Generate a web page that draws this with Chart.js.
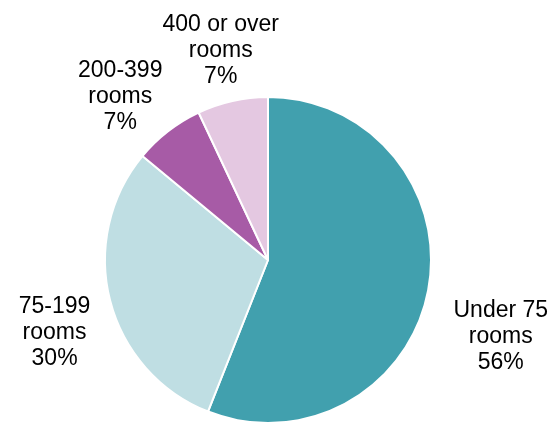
<!DOCTYPE html>
<html>
<head>
<meta charset="utf-8">
<script src="https://cdn.jsdelivr.net/npm/chart.js@4.4.0/dist/chart.umd.min.js"></script>
<style>
  html, body { margin: 0; padding: 0; background: #fff; }
  #wrap { width: 555px; height: 424px; }
</style>
</head>
<body>
<div id="wrap"><canvas id="roomsChart" width="555" height="424"></canvas></div>
<script>
// Hotel size bands, share of hotels
const categories = ['Under 75 rooms', '75-199 rooms', '200-399 rooms', '400 or over rooms'];
const shares = [56, 30, 7, 7];
const labelLines = [
    ['Under 75', 'rooms'],
    ['75-199', 'rooms'],
    ['200-399', 'rooms'],
    ['400 or over', 'rooms']
];
const sliceColors = ['#41A0AE', '#BFDEE3', '#A75BA6', '#E4C8E1'];

// where each label sits relative to its slice: radius multiple and angle nudge (deg)
const labelRadius = [1.5, 1.38, 1.36, 1.33];
const labelNudge = [7, -4, -4, 0];

const outsideLabels = {
    id: 'outsideLabels',
    afterDatasetsDraw(chart) {
        const ctx = chart.ctx;
        const meta = chart.getDatasetMeta(0);
        ctx.save();
        ctx.font = '23px "Liberation Sans", Arial, sans-serif';
        ctx.fillStyle = '#000';
        ctx.textAlign = 'center';
        ctx.textBaseline = 'middle';
        meta.data.forEach((arc, i) => {
            const p = arc.getProps(['x', 'y', 'startAngle', 'endAngle', 'outerRadius'], true);
            const mid = (p.startAngle + p.endAngle) / 2 + labelNudge[i] * Math.PI / 180;
            const r = p.outerRadius * labelRadius[i];
            const x = p.x + Math.cos(mid) * r;
            const y = p.y + Math.sin(mid) * r + 2;
            const lines = labelLines[i].concat([shares[i] + '%']);
            const lh = 26;
            lines.forEach((t, k) => {
                ctx.fillText(t, x, y + (k - (lines.length - 1) / 2) * lh);
            });
        });
        ctx.restore();
    }
};

new Chart(document.getElementById('roomsChart'), {
    type: 'pie',
    data: {
        labels: categories,
        datasets: [{
            data: shares,
            backgroundColor: sliceColors,
            borderColor: '#ffffff',
            borderWidth: 2
        }]
    },
    options: {
        responsive: false,
        animation: false,
        layout: { padding: { left: 104, right: 123, top: 96, bottom: 0 } },
        plugins: {
            legend: { display: false },
            tooltip: { enabled: false }
        }
    },
    plugins: [outsideLabels]
});
</script>
</body>
</html>
